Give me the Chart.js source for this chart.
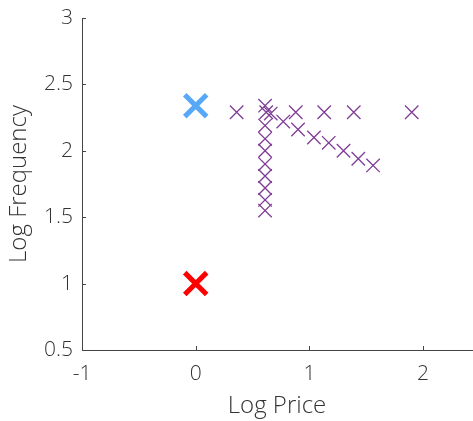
<!DOCTYPE html>
<html>
<head>
<meta charset="utf-8">
<script src="https://cdn.jsdelivr.net/npm/chart.js@4.4.0/dist/chart.umd.min.js"></script>
<style>
  body { margin: 0; background: #fff; }
  #wrap { width: 473px; height: 421px; }
</style>
</head>
<body>
<div id="wrap"><canvas id="myChart" width="473" height="421"></canvas></div>
<script>
// data
var otherPrice = [0.36, 0.62, 0.66, 0.88, 1.13, 1.39, 1.90,
  0.61, 0.61, 0.61, 0.61, 0.61, 0.61, 0.61, 0.61, 0.61,
  0.77, 0.90, 1.04, 1.17, 1.30, 1.43, 1.56];
var otherFreq = [2.29, 2.29, 2.28, 2.29, 2.29, 2.29, 2.29,
  2.34, 2.19, 2.09, 2.00, 1.90, 1.81, 1.72, 1.63, 1.55,
  2.22, 2.16, 2.10, 2.06, 2.00, 1.94, 1.89];
var bluePrice = [0];
var blueFreq = [2.34];
var redPrice = [0];
var redFreq = [1];
var xTicks = [-1, 0, 1, 2];
var yTicks = [0.5, 1, 1.5, 2, 2.5, 3];

function toPoints(xs, ys) {
  return xs.map(function (x, i) { return { x: x, y: ys[i] }; });
}

// MATLAB style ticks that point into the plot
var innerTicks = {
  id: 'innerTicks',
  afterDraw: function (chart) {
    var ctx = chart.ctx;
    var xs = chart.scales.x, ys = chart.scales.y;
    var area = chart.chartArea;
    ctx.save();
    ctx.strokeStyle = '#444';
    ctx.lineWidth = 1;
    ctx.beginPath();
    xs.ticks.forEach(function (t) {
      var px = Math.round(xs.getPixelForValue(t.value)) + 0.5;
      ctx.moveTo(px, area.bottom);
      ctx.lineTo(px, area.bottom - 4);
    });
    ys.ticks.forEach(function (t) {
      var py = Math.round(ys.getPixelForValue(t.value)) + 0.5;
      ctx.moveTo(area.left, py);
      ctx.lineTo(area.left + 4, py);
    });
    ctx.stroke();
    ctx.restore();
  }
};

var tickFont = { family: 'Open Sans', size: 21, weight: '300' };
var titleFont = { family: 'Open Sans', size: 24, weight: '300' };

var config = {
  type: 'scatter',
  data: {
    datasets: [{
      data: toPoints(otherPrice, otherFreq),
      pointStyle: 'crossRot',
      pointRadius: 9.5,
      pointHoverRadius: 9.5,
      pointBorderWidth: 1.3,
      borderColor: '#7E3C96',
      backgroundColor: '#7E3C96'
    }, {
      data: toPoints(bluePrice, blueFreq),
      pointStyle: 'crossRot',
      pointRadius: 15.5,
      pointBorderWidth: 5,
      borderColor: '#58A8F8',
      backgroundColor: '#58A8F8'
    }, {
      data: toPoints(redPrice, redFreq),
      pointStyle: 'crossRot',
      pointRadius: 15.5,
      pointBorderWidth: 5,
      borderColor: '#FF0000',
      backgroundColor: '#FF0000'
    }]
  },
  options: {
    responsive: false,
    animation: false,
    layout: {
      autoPadding: false,
      padding: { top: 18, right: 1, left: 0, bottom: 0 }
    },
    plugins: {
      legend: { display: false },
      tooltip: { enabled: false }
    },
    scales: {
      x: {
        type: 'linear',
        min: -1,
        max: 2.43,
        afterBuildTicks: function (s) {
          s.ticks = xTicks.map(function (v) { return { value: v }; });
        },
        afterFit: function (s) {
          s.height = 71;
          s.paddingLeft = 0;
          s.paddingRight = 0;
        },
        grid: { display: false, drawTicks: false },
        border: { display: true, color: '#444', width: 1 },
        ticks: {
          padding: 11,
          color: '#333',
          font: tickFont,
          callback: function (v) { return String(v); }
        },
        title: {
          display: true,
          text: 'Log Price',
          color: '#333',
          padding: { top: 0, bottom: 0 },
          font: titleFont
        }
      },
      y: {
        type: 'linear',
        min: 0.5,
        max: 3,
        afterBuildTicks: function (s) {
          s.ticks = yTicks.map(function (v) { return { value: v }; });
        },
        afterFit: function (s) {
          s.width = 82;
          s.paddingTop = 0;
          s.paddingBottom = 0;
        },
        grid: { display: false, drawTicks: false },
        border: { display: true, color: '#444', width: 1 },
        ticks: {
          padding: 9,
          color: '#333',
          font: tickFont,
          callback: function (v) { return String(v); }
        },
        title: {
          display: true,
          text: 'Log Frequency',
          color: '#333',
          padding: { top: 5, bottom: 4 },
          font: titleFont
        }
      }
    }
  },
  plugins: [innerTicks]
};

// Create the chart
var myChart = new Chart(document.getElementById('myChart'), config);
</script>
</body>
</html>
